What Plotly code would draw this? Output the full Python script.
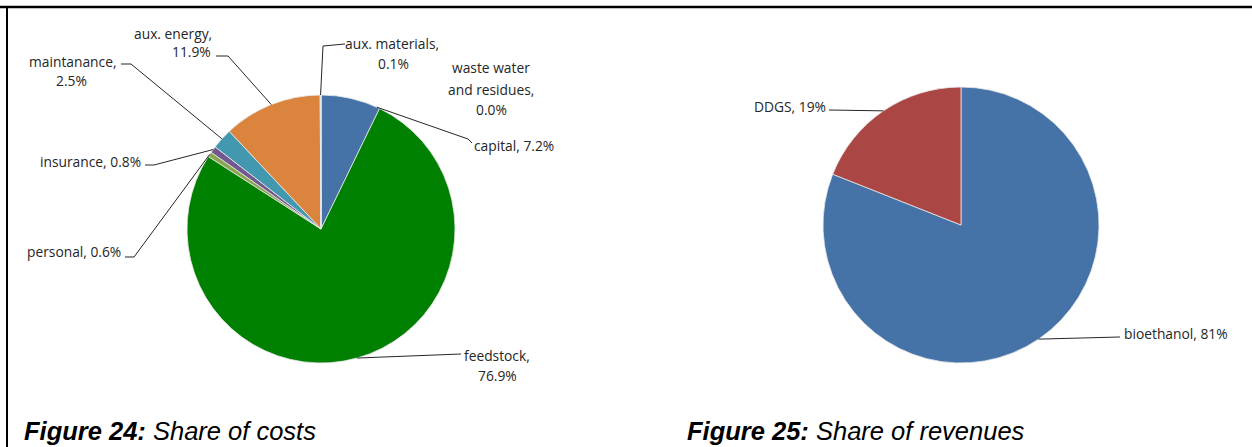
import math
import plotly.graph_objects as go

# ---------------- data ----------------
cost_labels = ["capital", "feedstock", "personal", "insurance", "maintanance",
               "aux. energy", "aux. materials", "waste water and residues"]
cost_values = [7.2, 76.9, 0.6, 0.8, 2.5, 11.9, 0.1, 0.0]
cost_colors = ["#4572A7", "#008000", "#89A54E", "#71588F", "#4198AF",
               "#DB843D", "#93A9CF", "#D19392"]

rev_labels = ["bioethanol", "DDGS"]
rev_values = [81, 19]
rev_colors = ["#4572A7", "#AA4643"]

captions = [("Figure 24:", "Share of costs"), ("Figure 25:", "Share of revenues")]

# ---------------- layout constants (pixels) ----------------
W, H = 1252, 447
L_CX, L_CY, L_R = 321, 229, 134
R_CX, R_CY, R_R = 961, 225, 138

LABEL_FONT = dict(family="Open Sans", size=13.8, color="#262626")
LINE_COL = "#262626"


def px(x):
    return x / W


def py(y):
    return 1 - y / H


def domain(cx, cy, r):
    return dict(x=[px(cx - r), px(cx + r)], y=[py(cy + r), py(cy - r)])


def anchor(values, idx, cx, cy, r, frac=0.5):
    total = sum(values)
    start = sum(values[:idx])
    a = 2 * math.pi * (start + frac * values[idx]) / total
    return cx + r * math.sin(a), cy - r * math.cos(a)


fig = go.Figure()
fig.add_trace(go.Pie(
    labels=cost_labels, values=cost_values, sort=False, direction="clockwise",
    rotation=0, textinfo="none", hoverinfo="label+percent",
    marker=dict(colors=cost_colors, line=dict(color="#E8E8E8", width=0.8)),
    domain=domain(L_CX, L_CY, L_R), showlegend=False,
))
fig.add_trace(go.Pie(
    labels=rev_labels, values=rev_values, sort=False, direction="clockwise",
    rotation=0, textinfo="none", hoverinfo="label+percent",
    marker=dict(colors=rev_colors, line=dict(color="#E8E8E8", width=0.8)),
    domain=domain(R_CX, R_CY, R_R), showlegend=False,
))

annotations = []
shapes = []


def text(t, x, y, xanchor="center"):
    annotations.append(dict(text=t, x=px(x), y=py(y), xref="paper", yref="paper",
                            xanchor=xanchor, yanchor="middle", showarrow=False,
                            font=LABEL_FONT))


def leader(points):
    path = "M " + " L ".join(f"{px(x):.5f},{py(y):.5f}" for x, y in points)
    shapes.append(dict(type="path", path=path, xref="paper", yref="paper",
                       line=dict(color=LINE_COL, width=1)))


def pct(v, d=1):
    return f"{v:.{d}f}%"


# ---- left pie labels ----
i = cost_labels.index("capital")
text(f"{cost_labels[i]}, {pct(cost_values[i])}", 472, 145, "left")
leader([anchor(cost_values, i, L_CX, L_CY, L_R, 0.95), (468, 139), (472, 143)])

i = cost_labels.index("feedstock")
text(f"{cost_labels[i]},", 497, 355)
text(pct(cost_values[i]), 497, 375)
leader([anchor(cost_values, i, L_CX, L_CY, L_R), (461, 354)])

i = cost_labels.index("personal")
text(f"{cost_labels[i]}, {pct(cost_values[i])}", 123, 252, "right")
leader([(125, 257), (134, 257), anchor(cost_values, i, L_CX, L_CY, L_R)])

i = cost_labels.index("insurance")
text(f"{cost_labels[i]}, {pct(cost_values[i])}", 143, 161, "right")
leader([(145, 165), (154, 165), anchor(cost_values, i, L_CX, L_CY, L_R)])

i = cost_labels.index("maintanance")
text(f"{cost_labels[i]},", 72, 61)
text(pct(cost_values[i]), 71, 81)
leader([(121, 64), (131, 64), anchor(cost_values, i, L_CX, L_CY, L_R)])

i = cost_labels.index("aux. energy")
text(f"{cost_labels[i]},", 214, 33, "right")
text(pct(cost_values[i]), 213, 52, "right")
leader([(216, 56), (228, 56), anchor(cost_values, i, L_CX, L_CY, L_R)])

i = cost_labels.index("aux. materials")
text(f"{cost_labels[i]},", 392, 43)
text(pct(cost_values[i]), 393, 64)
leader([anchor(cost_values, i, L_CX, L_CY, L_R), (323, 46), (345, 44)])

i = cost_labels.index("waste water and residues")
text("waste water", 491, 68)
text("and residues,", 491, 89)
text(pct(cost_values[i]), 491, 110)

# ---- right pie labels ----
i = rev_labels.index("DDGS")
text(f"{rev_labels[i]}, {rev_values[i]}%", 828, 106, "right")
leader([(829, 110), anchor(rev_values, i, R_CX, R_CY, R_R)])

i = rev_labels.index("bioethanol")
text(f"{rev_labels[i]}, {rev_values[i]}%", 1122, 333, "left")
leader([anchor(rev_values, i, R_CX, R_CY, R_R), (1120, 337)])

# ---- captions ----
for (bold, rest), x in zip(captions, [22, 685]):
    annotations.append(dict(
        text=f"<b><i>{bold}</i></b><i> {rest}</i>", x=px(x), y=py(431),
        xref="paper", yref="paper", xanchor="left", yanchor="middle",
        showarrow=False, font=dict(family="Liberation Sans", size=25.5, color="#000")))

# ---- frame lines ----
shapes.append(dict(type="line", xref="paper", yref="paper", x0=0, x1=1,
                   y0=py(7), y1=py(7), line=dict(color="#000", width=2.5)))
shapes.append(dict(type="line", xref="paper", yref="paper", x0=px(7), x1=px(7),
                   y0=py(7), y1=0, line=dict(color="#000", width=2)))

fig.update_layout(
    width=W, height=H, margin=dict(l=0, r=0, t=0, b=0),
    paper_bgcolor="white", plot_bgcolor="white",
    annotations=annotations, shapes=shapes, showlegend=False,
)

fig.write_html("out.html", config={"displayModeBar": False},
               post_script="document.body.style.margin='0px';"
                           "document.body.style.overflow='hidden';")
